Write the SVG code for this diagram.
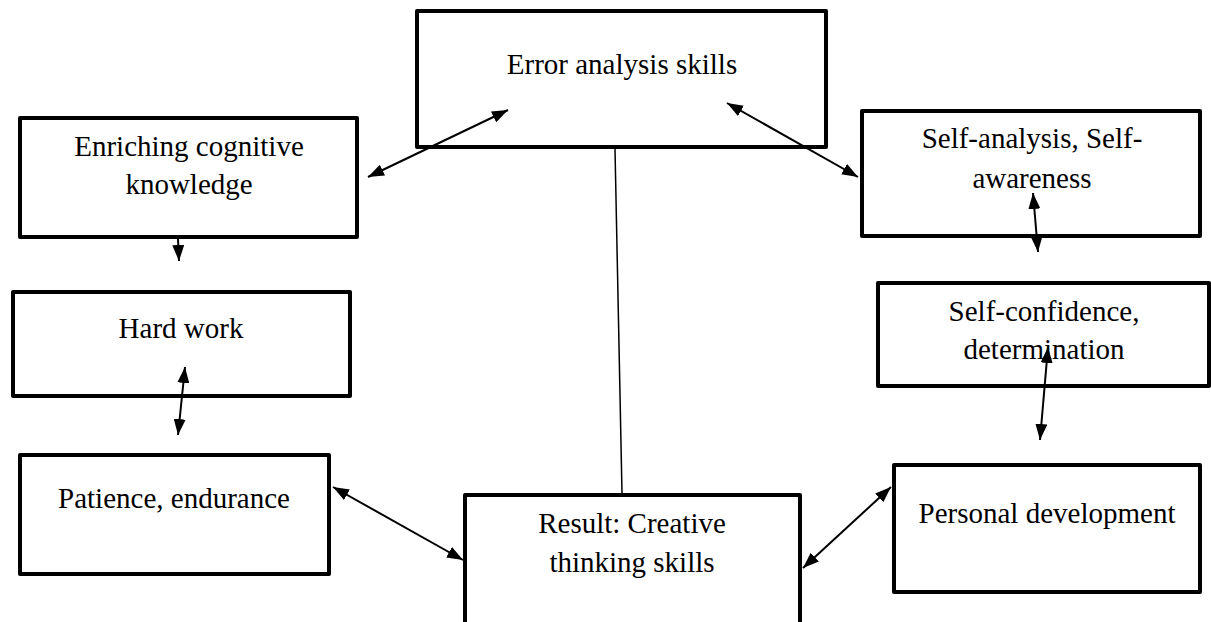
<svg xmlns="http://www.w3.org/2000/svg" width="1211" height="622" viewBox="0 0 1211 622">
<defs>
<style>
.box{fill:#fff;stroke:#000;stroke-width:4;stroke-linejoin:round}
.t{font-family:"Liberation Serif","Times New Roman",serif;font-size:29px;fill:#000;text-anchor:middle}
.c{stroke:#000;stroke-width:2;fill:none}
</style>
<marker id="ah" viewBox="0 0 16 12" markerWidth="16" markerHeight="12" refX="16" refY="6" orient="auto-start-reverse" markerUnits="userSpaceOnUse">
<path d="M0,0 L16,6 L0,12 z" fill="#000"/>
</marker>
</defs>
<rect width="1211" height="622" fill="#fff"/>
<g id="n-error"><rect class="box" x="417" y="11" width="409" height="136"/><text class="t" x="622" y="74">Error analysis skills</text></g>
<g id="n-enrich"><rect class="box" x="20" y="118" width="337" height="119"/><text class="t" x="189" y="156">Enriching cognitive</text><text class="t" x="189" y="194">knowledge</text></g>
<g id="n-hard"><rect class="box" x="13" y="292" width="337" height="104"/><text class="t" x="181" y="338">Hard work</text></g>
<g id="n-patience"><rect class="box" x="20" y="455" width="309" height="119"/><text class="t" x="174" y="508">Patience, endurance</text></g>
<g id="n-result"><rect class="box" x="465" y="495" width="335" height="140"/><text class="t" x="632" y="533">Result: Creative</text><text class="t" x="632" y="572">thinking skills</text></g>
<g id="n-selfan"><rect class="box" x="862" y="111" width="338" height="125"/><text class="t" x="1032" y="148">Self-analysis, Self-</text><text class="t" x="1032" y="188">awareness</text></g>
<g id="n-selfconf"><rect class="box" x="878" y="283" width="331" height="103"/><text class="t" x="1044" y="321">Self-confidence,</text><text class="t" x="1044" y="359">determination</text></g>
<g id="n-personal"><rect class="box" x="894" y="465" width="306" height="127"/><text class="t" x="1047" y="523">Personal development</text></g>
<g id="connectors">
<line x1="615" y1="149" x2="622" y2="493" stroke="#000" stroke-width="1.5"/>
<line class="c" x1="368" y1="177" x2="508" y2="110" marker-start="url(#ah)" marker-end="url(#ah)"/>
<line class="c" x1="727" y1="103" x2="858" y2="177" marker-start="url(#ah)" marker-end="url(#ah)"/>
<line class="c" x1="178" y1="239" x2="179" y2="261" marker-end="url(#ah)"/>
<line class="c" x1="185" y1="367" x2="178" y2="435" marker-start="url(#ah)" marker-end="url(#ah)"/>
<line class="c" x1="333" y1="487" x2="463" y2="560" marker-start="url(#ah)" marker-end="url(#ah)"/>
<line class="c" x1="803" y1="568" x2="891" y2="487" marker-start="url(#ah)" marker-end="url(#ah)"/>
<line class="c" x1="1033" y1="193" x2="1038" y2="252" marker-start="url(#ah)" marker-end="url(#ah)"/>
<line class="c" x1="1048" y1="347" x2="1040" y2="440" marker-start="url(#ah)" marker-end="url(#ah)"/>
</g>
</svg>
